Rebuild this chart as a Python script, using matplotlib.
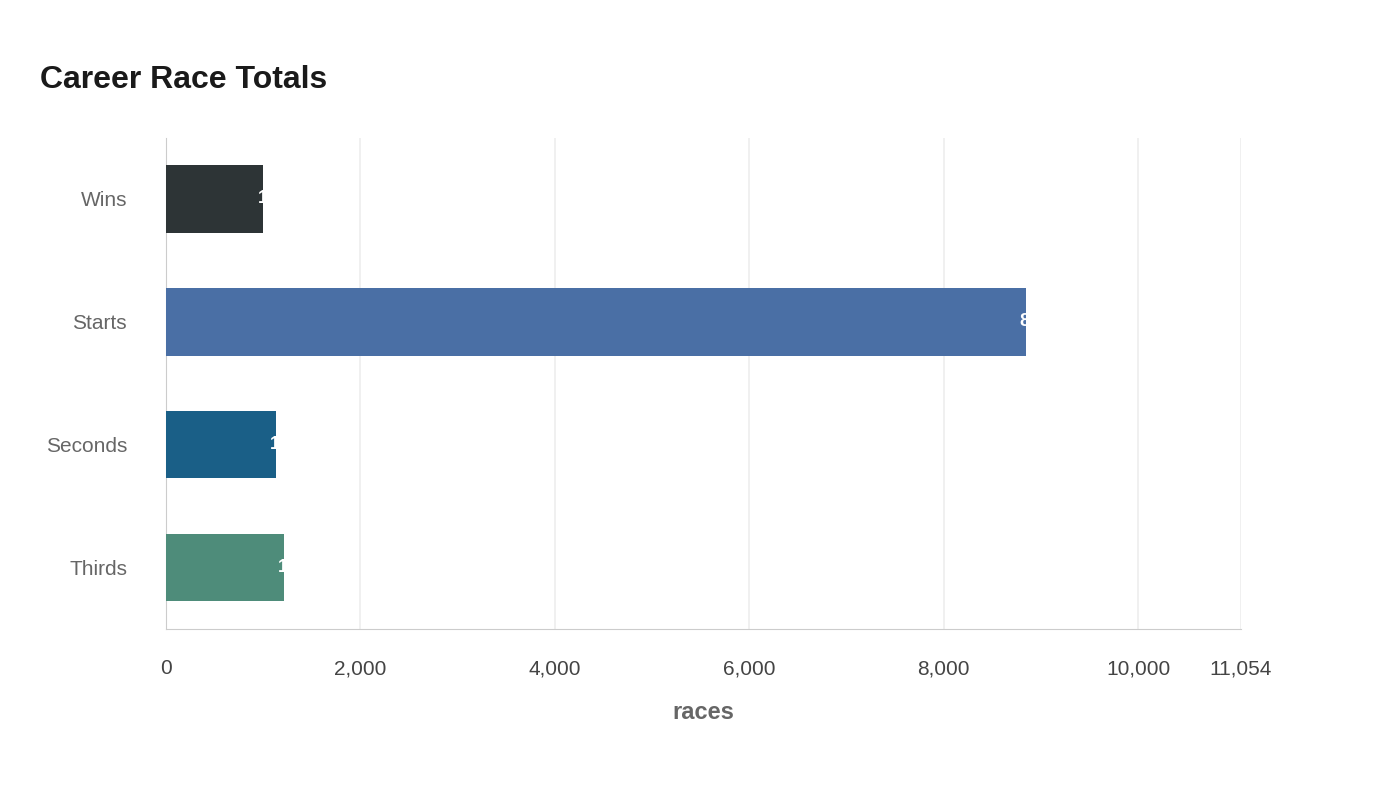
import matplotlib
matplotlib.use("Agg")
import matplotlib.pyplot as plt
from matplotlib.patches import FancyBboxPatch

categories = ["Wins", "Starts", "Seconds", "Thirds"]
values = [1000, 8843, 1130, 1215]
colors = ["#2d3436", "#4a6fa5", "#1a5f87", "#4e8c7a"]
xticks = [0, 2000, 4000, 6000, 8000, 10000, 11054]
xmax = 11054

plt.rcParams['font.family'] = ['Liberation Sans', 'DejaVu Sans']
fig = plt.figure(figsize=(14, 8), dpi=100)
ax = fig.add_axes([0.1186, 0.214, 0.7675, 0.614])
ax.set_xlim(0, xmax)
ax.set_ylim(3.5, -0.5)
for i, (c, v, col) in enumerate(zip(categories, values, colors)):
    p = FancyBboxPatch((0, i - 0.275), v, 0.55, boxstyle="round,pad=0,rounding_size=0.05",
                       mutation_aspect=1, fc=col, ec="none", zorder=3)
    p.set_boxstyle("round", pad=0, rounding_size=0.05)
    bar = ax.barh(i, v, height=0.55, color=col, zorder=3)[0]
    t = ax.text(v - 60, i, f"{v:,}", color="white", fontsize=13, fontweight="bold",
                va="center", ha="left", zorder=4)
    t.set_clip_path(bar)
ax.set_yticks(range(len(categories)))
ax.set_yticklabels(categories, fontsize=15, color="#666666")
ax.set_xticks(xticks)
ax.set_xticklabels([f"{x:,}" for x in xticks], fontsize=15, color="#444444")
ax.tick_params(axis="y", length=0, pad=28)
ax.tick_params(axis="x", length=0, pad=22)
ax.grid(axis="x", color="#eeeeee", lw=1.2, zorder=0)
for s in ["top", "right"]:
    ax.spines[s].set_visible(False)
ax.spines["left"].set_color("#cccccc")
ax.spines["bottom"].set_color("#cccccc")
ax.set_xlabel("races", fontsize=17, fontweight="bold", color="#666666", labelpad=16)
fig.text(0.0286, 0.9, "Career Race Totals", fontsize=23, fontweight="bold", color="#1a1a1a", va="center")
fig.savefig("out.png")
